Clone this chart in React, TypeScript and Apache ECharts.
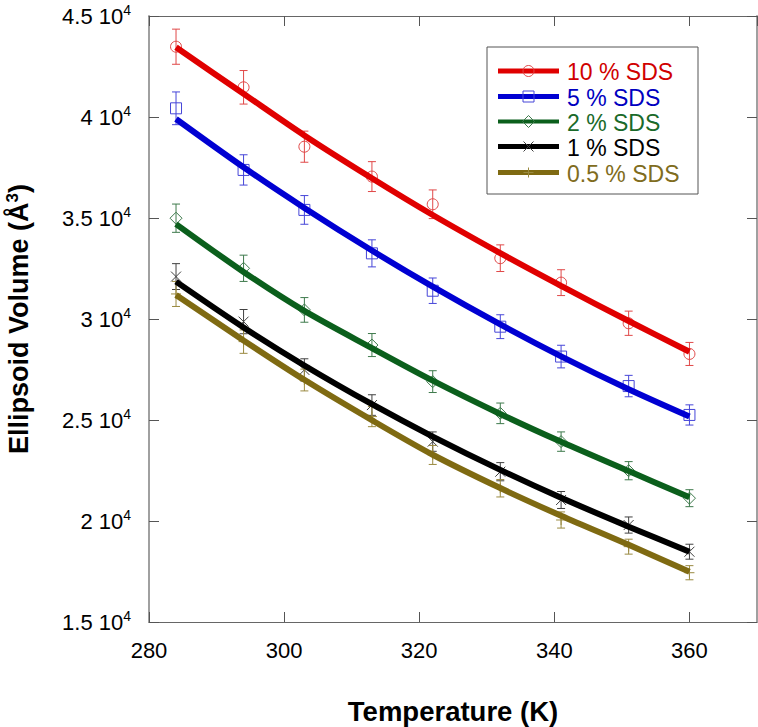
import React, { useEffect, useRef } from "react";
import * as echarts from "echarts";

const FONT = "'Liberation Sans', Arial, Helvetica, sans-serif";

const temps = [284, 294, 303, 313, 322, 332, 341, 351, 360];

const seriesNames = ["10 % SDS", "5 % SDS", "2 % SDS", "1 % SDS", "0.5 % SDS"];

// measured points
const meas10 = [43480, 41470, 38530, 37050, 35680, 33010, 31800, 29790, 28270];
const meas5 = [40430, 37380, 35400, 33250, 31400, 29620, 28140, 26680, 25250];
const meas2 = [34990, 32510, 30450, 28710, 26900, 25330, 23930, 22490, 21130];
const meas1 = [32100, 29870, 27480, 25740, 23930, 22440, 21040, 19800, 18480];
const meas05 = [31240, 28880, 26980, 25170, 23270, 21620, 20050, 18730, 17440];

// error bar half-heights
const err10 = [870, 830, 770, 740, 710, 660, 640, 600, 570];
const err5 = [810, 750, 710, 670, 630, 590, 560, 530, 500];
const err2 = [700, 650, 610, 570, 540, 510, 480, 450, 420];
const err1 = [640, 600, 550, 510, 480, 450, 420, 400, 370];
const err05 = [620, 580, 540, 500, 470, 430, 400, 370, 350];

// fitted curves
const fit10 = [43450, 41150, 39090, 36970, 35150, 33260, 31640, 29900, 28380];
const fit5 = [39900, 37510, 35500, 33390, 31600, 29730, 28150, 26520, 25170];
const fit2 = [34700, 32330, 30400, 28560, 26950, 25300, 23920, 22470, 21180];
const fit1 = [31850, 29580, 27700, 25780, 24180, 22530, 21150, 19720, 18480];
const fit05 = [31190, 28940, 26990, 24990, 23280, 21630, 20260, 18820, 17490];

const xTicks = [280, 300, 320, 340, 360];
const yTicks = [15000, 20000, 25000, 30000, 35000, 40000, 45000];

const measAll = [meas10, meas5, meas2, meas1, meas05];
const errAll = [err10, err5, err2, err1, err05];
const fitAll = [fit10, fit5, fit2, fit1, fit05];

const lineColors = ["#e00000", "#0000d2", "#0b5f1c", "#000000", "#7f6a12"];
const markColors = ["#e04848", "#4646d8", "#3e7a4c", "#404040", "#9a8a40"];
const textColors = ["#d00000", "#0000c0", "#1a6a2a", "#000000", "#7f6c20"];
const markerKinds = ["circle", "square", "diamond", "cross", "plus"];

function markerShape(kind: string, cx: number, cy: number, color: string, lw = 1) {
  const style = { stroke: color, lineWidth: lw, fill: "none" };
  const r = 5;
  if (kind === "circle") return [{ type: "circle", shape: { cx, cy, r: 5.5 }, style }];
  if (kind === "square") return [{ type: "rect", shape: { x: cx - 5.5, y: cy - 5.5, width: 11, height: 11 }, style }];
  if (kind === "diamond")
    return [{ type: "polygon", shape: { points: [[cx, cy - 6], [cx + 6, cy], [cx, cy + 6], [cx - 6, cy]] }, style }];
  if (kind === "cross")
    return [
      { type: "line", shape: { x1: cx - r, y1: cy - r, x2: cx + r, y2: cy + r }, style },
      { type: "line", shape: { x1: cx - r, y1: cy + r, x2: cx + r, y2: cy - r }, style },
    ];
  return [
    { type: "line", shape: { x1: cx - r, y1: cy, x2: cx + r, y2: cy }, style },
    { type: "line", shape: { x1: cx, y1: cy - r, x2: cx, y2: cy + r }, style },
  ];
}

export default function App() {
  const ref = useRef<HTMLDivElement>(null);
  useEffect(() => {
    if (!ref.current) return;
    const chart = echarts.init(ref.current, null, { renderer: "svg" });

    const series: any[] = [];
    seriesNames.forEach((name, k) => {
      series.push({
        type: "custom",
        name: name + " data",
        z: 1,
        data: temps.map((t, i) => [t, measAll[k][i], errAll[k][i]]),
        renderItem: (params: any, api: any) => {
          const x = api.value(0);
          const y = api.value(1);
          const e = api.value(2);
          const p = api.coord([x, y]);
          const t = api.coord([x, y + e]);
          const b = api.coord([x, y - e]);
          const c = markColors[k];
          const style = { stroke: c, lineWidth: 1, fill: "none" };
          const cw = 4;
          return {
            type: "group",
            children: [
              { type: "line", shape: { x1: p[0], y1: t[1], x2: p[0], y2: b[1] }, style },
              { type: "line", shape: { x1: p[0] - cw, y1: t[1], x2: p[0] + cw, y2: t[1] }, style },
              { type: "line", shape: { x1: p[0] - cw, y1: b[1], x2: p[0] + cw, y2: b[1] }, style },
              ...markerShape(markerKinds[k], p[0], p[1], c),
            ],
          };
        },
      });
      series.push({
        type: "line",
        name,
        z: 3,
        data: temps.map((t, i) => [t, fitAll[k][i]]),
        showSymbol: false,
        smooth: 0.3,
        lineStyle: { color: lineColors[k], width: 6 },
      });
    });

    // legend
    const lx = 487, ly = 47;
    const rows = [71, 96.5, 121.5, 146.5, 172.5];
    const legendEls: any[] = [
      { type: "rect", shape: { x: lx, y: ly, width: 211, height: 147 }, style: { fill: "#fff", stroke: "#555", lineWidth: 1 }, z: 10 },
    ];
    rows.forEach((ry, k) => {
      legendEls.push({
        type: "line",
        shape: { x1: 498, y1: ry, x2: 559, y2: ry },
        style: { stroke: lineColors[k], lineWidth: k === 2 ? 4 : 5 },
        z: 11,
      });
      markerShape(markerKinds[k], 528.5, ry, markColors[k]).forEach((m: any) => legendEls.push({ ...m, z: 12 }));
      legendEls.push({
        type: "text",
        x: 567,
        y: ry + 1,
        style: { text: seriesNames[k], fill: textColors[k], font: `23px ${FONT}`, verticalAlign: "middle", align: "left" },
        z: 12,
      });
    });

    chart.setOption({
      animation: false,
      backgroundColor: "#fff",
      grid: { left: 149, top: 16, right: 1, bottom: 105, containLabel: false, outerBoundsMode: "none" },
      xAxis: [
        {
          type: "value",
          min: 280,
          max: 370,
          interval: 20,
          position: "bottom",
          name: "Temperature (K)",
          nameLocation: "middle",
          nameGap: 74,
          nameTextStyle: { fontFamily: FONT, fontSize: 27.5, fontWeight: "bold", color: "#000", lineHeight: 30 },
          axisLine: { show: true, lineStyle: { color: "#666", width: 1 } },
          axisTick: { show: true, inside: true, length: 10, lineStyle: { color: "#555" } },
          axisLabel: {
            show: true,
            margin: 17,
            showMaxLabel: false,
            fontFamily: FONT,
            fontSize: 22,
            color: "#000",
            formatter: (v: number) => (xTicks.includes(v) ? String(v) : ""),
          },
          splitLine: { show: false },
        },
        {
          type: "value",
          min: 280,
          max: 370,
          interval: 20,
          position: "top",
          axisLine: { show: true, lineStyle: { color: "#666", width: 1 } },
          axisTick: { show: true, inside: true, length: 10, lineStyle: { color: "#555" } },
          axisLabel: { show: false },
          splitLine: { show: false },
        },
      ],
      yAxis: [
        {
          type: "value",
          min: 15000,
          max: 45000,
          interval: 5000,
          position: "left",
          name: "{t|Ellipsoid Volume (Å}{s|3}{t|)}",
          nameLocation: "middle",
          nameGap: 115,
          nameRotate: 90,
          nameTextStyle: {
            rich: {
              t: { fontFamily: FONT, fontSize: 27, fontWeight: "bold", color: "#000", lineHeight: 30 },
              s: { fontFamily: FONT, fontSize: 17, fontWeight: "bold", color: "#000", lineHeight: 18, verticalAlign: "top" },
            },
          },
          axisLine: { show: true, lineStyle: { color: "#a0a0a0", width: 2 } },
          axisTick: { show: true, inside: true, length: 10, lineStyle: { color: "#555" } },
          axisLabel: {
            show: true,
            margin: 18,
            formatter: (v: number) => (yTicks.includes(v) ? `{m|${v / 10000} 10}{s|4}` : ""),
            rich: {
              m: { fontFamily: FONT, fontSize: 22, color: "#000", lineHeight: 26 },
              s: { fontFamily: FONT, fontSize: 14, color: "#000", lineHeight: 14, verticalAlign: "top" },
            },
          },
          splitLine: { show: false },
        },
        {
          type: "value",
          min: 15000,
          max: 45000,
          interval: 5000,
          position: "right",
          axisLine: { show: true, lineStyle: { color: "#a0a0a0", width: 2 } },
          axisTick: { show: true, inside: true, length: 10, lineStyle: { color: "#555" } },
          axisLabel: { show: false },
          splitLine: { show: false },
        },
      ],
      series,
      graphic: legendEls,
    });
    return () => chart.dispose();
  }, []);
  return <div ref={ref} style={{ position: "fixed", left: 0, top: 0, width: 758, height: 727 }} />;
}
